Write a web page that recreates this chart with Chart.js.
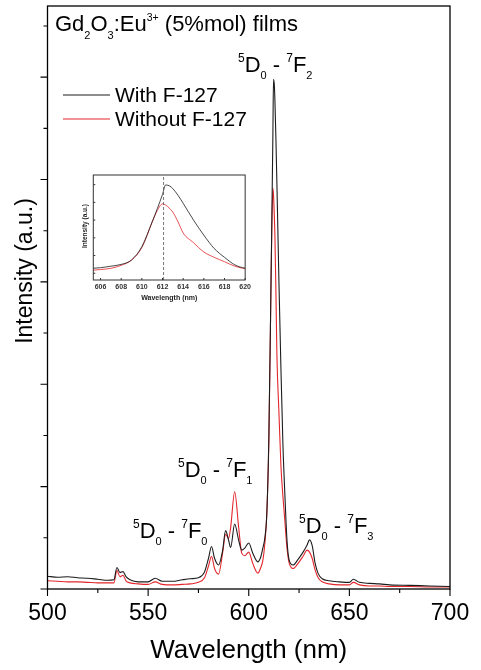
<!DOCTYPE html>
<html>
<head>
<meta charset="utf-8">
<script src="https://cdn.jsdelivr.net/npm/chart.js@4.4.0/dist/chart.umd.min.js"></script>
<style>
  html, body { margin: 0; padding: 0; background: #fff; }
  #wrap { position: relative; width: 481px; height: 670px; }
  #main { position: absolute; left: 0; top: 0; }
  #inset { position: absolute; left: 78px; top: 168px; }
</style>
</head>
<body>
<div id="wrap">
  <canvas id="main" width="481" height="670"></canvas>
  <canvas id="inset" width="176" height="138"></canvas>
</div>
<script>
// Emission spectra of Gd2O3:Eu3+ films (arbitrary units)
const wavelengths = [
  500, 505, 510, 515, 520, 525, 530, 533, 534.5, 536, 537.5, 539, 541, 545, 550,
  553.5, 557, 562, 567, 571, 575, 578, 580, 581.5, 583, 585, 587, 588.5, 590, 591,
  593, 595, 596.5, 598, 600, 602, 604.5, 606, 607, 608, 609, 610, 611, 611.5, 612,
  612.3, 612.7, 613, 613.5, 614, 615, 616, 617, 618, 619, 620, 622, 624.5, 627, 629,
  630.2, 631.5, 633, 634.5, 636.5, 640, 645, 650, 652, 655, 660, 665, 670, 680, 690, 700
];
const withF127 = [
  0.25, 0.23, 0.24, 0.22, 0.21, 0.19, 0.17, 0.18, 0.42, 0.32, 0.34, 0.24, 0.18, 0.14, 0.14,
  0.21, 0.15, 0.15, 0.18, 0.20, 0.22, 0.33, 0.60, 0.83, 0.60, 0.47, 0.75, 1.14, 0.95, 0.81,
  1.27, 0.95, 0.76, 0.80, 0.90, 0.70, 0.53, 0.63, 0.80, 1.00, 1.50, 3.00, 5.80, 7.30, 8.90,
  9.96, 9.85, 9.55, 8.80, 7.90, 6.00, 4.30, 2.80, 1.80, 0.95, 0.58, 0.47, 0.58, 0.72, 0.86,
  0.96, 0.85, 0.50, 0.30, 0.20, 0.16, 0.14, 0.13, 0.19, 0.13, 0.11, 0.10, 0.08, 0.07, 0.06, 0.05
];
const withoutF127 = [
  0.16, 0.15, 0.14, 0.14, 0.13, 0.12, 0.12, 0.12, 0.36, 0.24, 0.27, 0.16, 0.12, 0.10, 0.09,
  0.14, 0.09, 0.08, 0.09, 0.10, 0.13, 0.22, 0.45, 0.64, 0.40, 0.29, 0.70, 1.07, 0.99, 1.20,
  1.90, 1.20, 0.70, 0.65, 0.72, 0.50, 0.31, 0.42, 0.56, 0.89, 1.49, 2.90, 5.78, 7.10, 7.83,
  7.70, 7.30, 6.90, 5.80, 4.55, 3.45, 2.40, 1.80, 1.30, 0.80, 0.52, 0.40, 0.50, 0.64, 0.76,
  0.72, 0.60, 0.37, 0.22, 0.14, 0.10, 0.08, 0.08, 0.13, 0.08, 0.06, 0.06, 0.05, 0.05, 0.04, 0.04
];
const seriesNames = ['With F-127', 'Without F-127'];

const xLabels = [500, 550, 600, 650, 700];
const xMinorTicks = [525, 575, 625, 675];
const yTicks = [0, 1, 2, 3, 4, 5, 6, 7, 8, 9, 10, 11];
const insetXLabels = [606, 608, 610, 612, 614, 616, 618, 620];
const insetYTicks = [0, 2, 4, 6, 8, 10];
const insetMarker = 612.1;

const FONT = '"Liberation Sans", Arial, sans-serif';
const BLACK = '#1c1c1c';
const RED = '#e3262b';

const toPoints = (ys) => wavelengths.map((x, i) => ({ x: x, y: ys[i] }));

function makeDatasets(width) {
  return [
    { label: seriesNames[0], data: toPoints(withF127), borderColor: BLACK, borderWidth: width,
      pointRadius: 0, cubicInterpolationMode: 'monotone' },
    { label: seriesNames[1], data: toPoints(withoutF127), borderColor: RED, borderWidth: width,
      pointRadius: 0, cubicInterpolationMode: 'monotone' }
  ];
}

// text with sub/superscripts: [text, size, baseline shift]
function drawRich(ctx, x, y, parts) {
  for (const [text, size, dy] of parts) {
    ctx.font = size + 'px ' + FONT;
    ctx.fillText(text, x, y + dy);
    x += ctx.measureText(text).width;
  }
}
const transition = (lo) => [['5', 12, -10], ['D', 22, 0], ['0', 11, 7], [' - ', 22, 0],
  ['7', 12, -10], ['F', 22, 0], [lo, 11, 7]];

const mainDecor = {
  id: 'mainDecor',
  afterDatasetsDraw(chart) {
    const { ctx, chartArea: a, scales: { x, y } } = chart;
    ctx.save();
    ctx.strokeStyle = '#000';
    ctx.lineWidth = 1.3;
    ctx.strokeRect(a.left, a.top, a.right - a.left, a.bottom - a.top);

    ctx.lineWidth = 1.1;
    ctx.beginPath();
    xLabels.concat(xMinorTicks).forEach(v => {
      const px = x.getPixelForValue(v);
      ctx.moveTo(px, a.bottom);
      ctx.lineTo(px, a.bottom + (xLabels.includes(v) ? 7 : 4));
    });
    yTicks.forEach(v => {
      const py = y.getPixelForValue(v);
      ctx.moveTo(a.left, py);
      ctx.lineTo(a.left - (v % 2 === 0 ? 7 : 4), py);
    });
    ctx.stroke();

    ctx.fillStyle = '#000';
    ctx.textBaseline = 'alphabetic';
    ctx.textAlign = 'left';
    drawRich(ctx, 55, 31, [['Gd', 22, 0], ['2', 11, 8], ['O', 22, 0], ['3', 11, 8],
      [':Eu', 22, 0], ['3+', 10.5, -10], [' (5%mol) films', 22, 0]]);
    drawRich(ctx, 238, 72, transition('2'));
    drawRich(ctx, 178, 477, transition('1'));
    drawRich(ctx, 133, 538, transition('0'));
    drawRich(ctx, 299, 533, transition('3'));

    // legend
    ctx.lineWidth = 1.1;
    ctx.strokeStyle = BLACK;
    ctx.beginPath(); ctx.moveTo(63, 95); ctx.lineTo(110, 95); ctx.stroke();
    ctx.strokeStyle = RED;
    ctx.beginPath(); ctx.moveTo(63, 119); ctx.lineTo(110, 119); ctx.stroke();
    ctx.font = '21px ' + FONT;
    ctx.fillText(seriesNames[0], 115, 102);
    ctx.fillText(seriesNames[1], 115, 126);

    // axis titles
    ctx.textAlign = 'center';
    ctx.textBaseline = 'middle';
    ctx.font = '26px ' + FONT;
    ctx.fillText('Wavelength (nm)', (a.left + a.right) / 2, 651);
    ctx.translate(26, 271);
    ctx.rotate(-Math.PI / 2);
    ctx.font = '23px ' + FONT;
    ctx.fillText('Intensity (a.u.)', 0, 0);
    ctx.restore();
  }
};

new Chart(document.getElementById('main'), {
  type: 'line',
  data: { datasets: makeDatasets(1.1) },
  options: {
    responsive: false,
    animation: false,
    layout: { padding: { top: 6, right: 31, left: 0, bottom: 0 } },
    plugins: { legend: { display: false }, tooltip: { enabled: false } },
    scales: {
      x: {
        type: 'linear', min: 500, max: 700,
        grid: { display: false, drawTicks: false },
        border: { display: false },
        afterBuildTicks: (s) => { s.ticks = xLabels.map(v => ({ value: v })); },
        afterFit: (s) => { s.height = 81; },
        ticks: { padding: 11, color: '#000', maxRotation: 0, autoSkip: false,
                 font: { family: FONT, size: 23 } }
      },
      y: {
        min: 0, max: 11.39,
        grid: { display: false, drawTicks: false },
        border: { display: false },
        ticks: { display: false },
        afterFit: (s) => { s.width = 47.5; }
      }
    }
  },
  plugins: [mainDecor]
});

const insetDecor = {
  id: 'insetDecor',
  afterDatasetsDraw(chart) {
    const { ctx, chartArea: a, scales: { x, y } } = chart;
    ctx.save();
    ctx.strokeStyle = '#555';
    ctx.lineWidth = 0.8;
    ctx.setLineDash([3, 2]);
    const mx = x.getPixelForValue(insetMarker);
    ctx.beginPath(); ctx.moveTo(mx, a.bottom); ctx.lineTo(mx, a.top); ctx.stroke();
    ctx.setLineDash([]);

    ctx.strokeStyle = '#333';
    ctx.lineWidth = 1;
    ctx.strokeRect(a.left, a.top, a.right - a.left, a.bottom - a.top);
    ctx.beginPath();
    insetYTicks.forEach(v => {
      const py = y.getPixelForValue(v);
      ctx.moveTo(a.left, py); ctx.lineTo(a.left + 2, py);
    });
    insetXLabels.forEach(v => {
      const px = x.getPixelForValue(v);
      ctx.moveTo(px, a.bottom); ctx.lineTo(px, a.bottom - 2);
    });
    ctx.stroke();

    ctx.fillStyle = '#222';
    ctx.textAlign = 'center';
    ctx.textBaseline = 'middle';
    ctx.font = 'bold 7px ' + FONT;
    ctx.fillText('Wavelength (nm)', (a.left + a.right) / 2, 130);
    ctx.translate(7, 58);
    ctx.rotate(-Math.PI / 2);
    ctx.font = 'bold 6.5px ' + FONT;
    ctx.fillText('Intensity (a.u.)', 0, 0);
    ctx.restore();
  }
};

new Chart(document.getElementById('inset'), {
  type: 'line',
  data: { datasets: makeDatasets(0.8) },
  options: {
    responsive: false,
    animation: false,
    layout: { padding: { top: 7, right: 8, left: 0, bottom: 0 } },
    plugins: { legend: { display: false }, tooltip: { enabled: false } },
    scales: {
      x: {
        type: 'linear', min: 605.3, max: 620,
        grid: { display: false, drawTicks: false },
        border: { display: false },
        afterBuildTicks: (s) => { s.ticks = insetXLabels.map(v => ({ value: v })); },
        afterFit: (s) => { s.height = 26; },
        ticks: { padding: 3, color: '#333', maxRotation: 0, autoSkip: false,
                 font: { family: FONT, size: 7, weight: 'bold' } }
      },
      y: {
        min: -0.76, max: 11.09,
        grid: { display: false, drawTicks: false },
        border: { display: false },
        ticks: { display: false },
        afterFit: (s) => { s.width = 15.3; }
      }
    }
  },
  plugins: [insetDecor]
});
</script>
</body>
</html>
